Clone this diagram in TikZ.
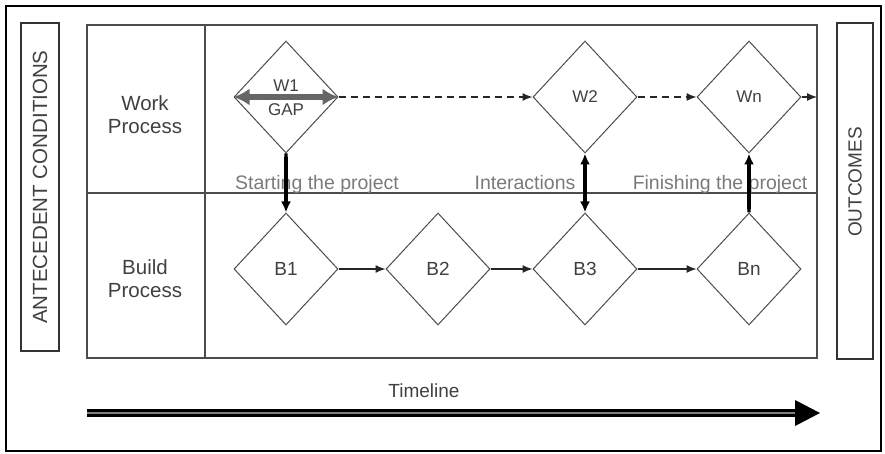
\documentclass[tikz,border=0pt]{standalone}
\usepackage{fontspec}
\setmainfont{Liberation Sans}
\usetikzlibrary{shapes.geometric,arrows.meta,graphs,positioning}
\definecolor{linegray}{gray}{0.30}
\definecolor{textgray}{gray}{0.25}
\definecolor{phasegray}{gray}{0.48}
\tikzset{
    stage/.style ={
        shape=diamond,
        draw=linegray,
        line width=1pt,
        inner sep=0pt,
        minimum width=104pt,
        minimum height=112pt,
        text=textgray,
        font=\fontsize{19}{19}\selectfont
    },
    row label/.style ={
        align=center,
        text=textgray,
        font=\fontsize{20.5}{23}\selectfont
    },
    phase/.style ={
        text=phasegray,
        font=\fontsize{19.5}{20}\selectfont,
        anchor=base
    },
    side box/.style ={
        draw=black!80,
        line width=1.3pt
    },
    flow/.style ={
        draw=black!85,
        line width=1.3pt,
        -{Latex[length=10pt,width=8pt]}
    },
    link/.style ={
        draw=black,
        line width=3.4pt,
        {Latex[length=11pt,width=10pt]}-{Latex[length=11pt,width=10pt]}
    }
}

\begin{document}
\begin{tikzpicture}[x=1pt,y=-1pt]
    \useasboundingbox (0,0) rectangle (885,454);
    % outer frame and the two side bars
    \draw[line width=2.2pt] (6,6) rectangle (881,451);
    \draw[side box] (21,23) rectangle (59,351);
    \draw[side box] (837,23) rectangle (873,359);
    \node[rotate=90,text=textgray,font=\fontsize{20.5}{20}\selectfont] (antecedent) at (40,187) {ANTECEDENT CONDITIONS};
    \node[rotate=90,text=textgray,font=\fontsize{19}{19}\selectfont] (outcomes) at (855,182) {OUTCOMES};

    % process grid
    \draw[linegray,line width=1.1pt] (87,25) rectangle (817,358);
    \draw[linegray,line width=1.1pt] (205,25) -- (205,358);
    \draw[linegray,line width=1.1pt] (87,193) -- (817,193);
    \node[row label] (work) at (145,115) {Work\\Process};
    \node[row label] (build) at (145,279) {Build\\Process};

    % work steps
    \node[stage] (w1) at (286,97) {};
    \node[stage,font=\fontsize{17}{17}\selectfont] (w2) at (585,97) {W2};
    \node[stage,font=\fontsize{17}{17}\selectfont] (wn) at (749,97) {Wn};
    \coordinate (out) at (817,97);

    % build steps
    \node[stage] (b1) at (286,269) {B1};
    \node[stage] (b2) at (438,269) {B2};
    \node[stage] (b3) at (585,269) {B3};
    \node[stage] (bn) at (749,269) {Bn};

    % phase labels
    \node[phase] (start) at (317,190) {Starting the project};
    \node[phase] (inter) at (525,190) {Interactions};
    \node[phase] (finish) at (720,190) {Finishing the project};

    % gap inside W1
    \draw[black!60,line width=6pt,{Latex[length=16pt,width=17pt]}-{Latex[length=16pt,width=17pt]}] (w1.west) -- (w1.east);
    \node[text=textgray,font=\fontsize{17}{17}\selectfont] (w1name) at (286,86) {W1};
    \node[text=textgray,font=\fontsize{17}{17}\selectfont] (gap) at (286,110) {GAP};

    % work flow, dashed
    \draw[flow,dashed,dash pattern=on 7pt off 5pt] (w1.east) -- (w2.west);
    \draw[flow,dashed,dash pattern=on 7pt off 5pt] (w2.east) -- (wn.west);
    \draw[flow] (wn.east) -- (out);

    % build flow
    \graph[edges={flow}]{
        (b1)->(b2)->(b3)->(bn);
    };

    % links between the two processes
    \draw[link,{Butt Cap}-{Latex[length=11pt,width=10pt]}] (w1.south) -- (b1.north);
    \draw[link] (w2.south) -- (b3.north);
    \draw[link,{Butt Cap}-{Latex[length=11pt,width=10pt]}] (bn.north) -- (wn.south);

    % timeline
    \node[text=textgray,font=\fontsize{19}{19}\selectfont] (timeline) at (424,391) {Timeline};
    \coordinate (tstart) at (87,413);
    \coordinate (tend) at (797,413);
    \coordinate (ttip) at (820,413);
    \draw[line width=3pt,double=black!50,double distance=1.6pt] (tstart) -- (tend);
    \fill[black] (795,400) -- (ttip) -- (795,426) -- cycle;
\end{tikzpicture}
\end{document}
